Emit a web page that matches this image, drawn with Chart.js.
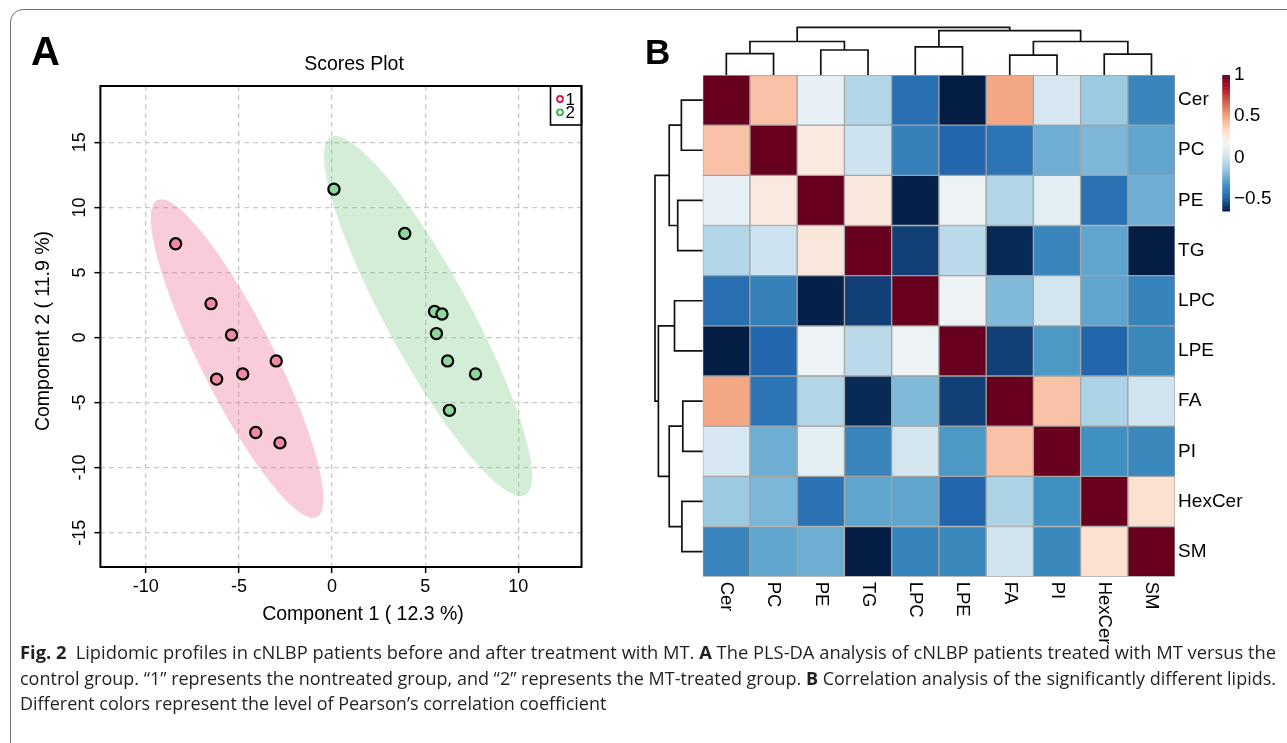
<!DOCTYPE html>
<html>
<head>
<meta charset="utf-8">
<script src="https://cdn.jsdelivr.net/npm/chart.js@4.4.0/dist/chart.umd.min.js"></script>
<style>
  html, body { margin: 0; padding: 0; background: #fff; width: 1287px; height: 743px; overflow: hidden; }
  body { position: relative; font-family: "Liberation Sans", Arial, sans-serif; }
  #frame { position: absolute; left: 10px; top: 9px; width: 1320px; height: 760px; border: 1px solid #6e6e6e; border-radius: 13px; box-sizing: border-box; }
  #scores { position: absolute; left: 0; top: 0; }
  #heat { position: absolute; left: 640px; top: 0; }
  #cap { position: absolute; left: 20px; top: 639px; color: #231f20;
         font-family: "Open Sans", "Noto Sans", sans-serif; font-size: 18.5px; line-height: 25.5px; white-space: nowrap; }
  #cap > div { transform-origin: 0 0; width: max-content; }
  #cap b { font-weight: 700; }
</style>
</head>
<body>
<div id="frame"></div>
<canvas id="scores" width="640" height="640"></canvas>
<canvas id="heat" width="647" height="662"></canvas>
<div id="cap">
  <div><b>Fig. 2</b>&ensp;Lipidomic profiles in cNLBP patients before and after treatment with MT. <b>A</b> The PLS-DA analysis of cNLBP patients treated with MT versus the</div>
  <div>control group. “1” represents the nontreated group, and “2” represents the MT-treated group. <b>B</b> Correlation analysis of the significantly different lipids.</div>
  <div>Different colors represent the level of Pearson’s correlation coefficient</div>
</div>
<script>
  // ---- panel A: PLS-DA scores ----
  const groupNames = ['1', '2'];
  const g1x = [-8.4, -6.5, -5.4, -3.0, -6.2, -4.8, -4.1, -2.8];
  const g1y = [7.2, 2.6, 0.2, -1.8, -3.2, -2.8, -7.3, -8.1];
  const g2x = [0.1, 3.9, 5.5, 5.9, 5.6, 6.2, 7.7, 6.3];
  const g2y = [11.4, 8.0, 2.0, 1.8, 0.3, -1.8, -2.8, -5.6];
  // confidence ellipses: centre x, centre y, sd x, sd y, correlation
  const ellipse1 = [-5.1, -1.62, 4.63, 12.24, -0.88];
  const ellipse2 = [5.15, 1.65, 5.59, 13.84, -0.89];
  const xRange = [-12.44, 13.39];
  const yRange = [-17.64, 19.33];

  // ---- panel B: correlation heatmap ----
  const lipids = ['Cer', 'PC', 'PE', 'TG', 'LPC', 'LPE', 'FA', 'PI', 'HexCer', 'SM'];
  const corr = [
    [1, 0.42, 0.1, -0.07, -0.45, -0.65, 0.5, 0.03, -0.13, -0.37],
    [0.42, 1, 0.26, 0.0, -0.39, -0.48, -0.43, -0.23, -0.2, -0.26],
    [0.1, 0.26, 1, 0.27, -0.64, 0.13, -0.07, 0.09, -0.44, -0.23],
    [-0.07, 0.0, 0.27, 1, -0.57, -0.05, -0.62, -0.37, -0.26, -0.65],
    [-0.45, -0.39, -0.64, -0.57, 1, 0.13, -0.19, 0.02, -0.26, -0.38],
    [-0.65, -0.48, 0.13, -0.05, 0.13, 1, -0.57, -0.3, -0.48, -0.36],
    [0.5, -0.43, -0.07, -0.62, -0.19, -0.57, 1, 0.42, -0.09, 0.01],
    [0.03, -0.23, 0.09, -0.37, 0.02, -0.3, 0.42, 1, -0.33, -0.36],
    [-0.13, -0.2, -0.44, -0.26, -0.26, -0.48, -0.09, -0.33, 1, 0.31],
    [-0.37, -0.26, -0.23, -0.65, -0.38, -0.36, 0.01, -0.36, 0.31, 1]
  ];
  // hclust style merges: negative = leaf (1-based), positive = earlier merge; last = height
  const treeMerges = [
    [-1, -2, 0.447], [-3, -4, 0.524], [-7, -8, 0.417], [-9, -10, 0.436], [-5, -6, 0.591],
    [1, 2, 0.702], [3, 4, 0.702], [5, 7, 0.929], [6, 8, 1.0]
  ];
  const legendTicks = [1, 0.5, 0, -0.5];
  const corrMin = -0.65, corrMax = 1;
  const palette = ['#031d44', '#2166AC', '#4393C3', '#92C5DE', '#D1E5F0', '#F7F7F7',
                   '#FDDBC7', '#F4A582', '#D6604D', '#B2182B', '#67001F'];

  const hexRgb = h => [1, 3, 5].map(k => parseInt(h.substr(k, 2), 16));
  function colorFor(v) {
    let t = (v - corrMin) / (corrMax - corrMin) * (palette.length - 1);
    t = Math.max(0, Math.min(palette.length - 1, t));
    const i = Math.min(Math.floor(t), palette.length - 2), f = t - i;
    const a = hexRgb(palette[i]), b = hexRgb(palette[i + 1]);
    return 'rgb(' + a.map((c, k) => Math.round(c + (b[k] - c) * f)).join(',') + ')';
  }

  const FONT = '"Liberation Sans", Arial, sans-serif';

  const scoresPlugin = {
    id: 'scoresExtras',
    beforeDatasetsDraw(chart) {
      const { ctx, scales: { x, y }, chartArea: a } = chart;
      ctx.save();
      ctx.beginPath();
      ctx.rect(a.left, a.top, a.width, a.height);
      ctx.clip();
      [[ellipse1, 'rgba(238,128,160,0.40)'], [ellipse2, 'rgba(120,200,130,0.32)']].forEach(([e, col]) => {
        const [cx, cy, sdx, sdy, r] = e;
        ctx.beginPath();
        for (let k = 0; k <= 180; k++) {
          const t = k / 180 * Math.PI * 2;
          const px = x.getPixelForValue(cx + sdx * Math.cos(t));
          const py = y.getPixelForValue(cy + sdy * (r * Math.cos(t) + Math.sqrt(1 - r * r) * Math.sin(t)));
          if (k === 0) ctx.moveTo(px, py); else ctx.lineTo(px, py);
        }
        ctx.closePath();
        ctx.fillStyle = col;
        ctx.fill();
      });
      ctx.restore();
    },
    afterDraw(chart) {
      const { ctx, scales: { y }, chartArea: a } = chart;
      ctx.save();
      ctx.strokeStyle = '#000';
      ctx.lineWidth = 2;
      ctx.strokeRect(a.left, a.top, a.width, a.height);
      ctx.fillStyle = '#000';
      // y tick labels, vertical like R
      ctx.font = '18px ' + FONT;
      ctx.textAlign = 'center';
      ctx.textBaseline = 'middle';
      y.ticks.forEach(t => {
        ctx.save();
        ctx.translate(80, y.getPixelForValue(t.value));
        ctx.rotate(-Math.PI / 2);
        ctx.fillText(String(t.value), 0, 0);
        ctx.restore();
      });
      // titles
      ctx.font = '19.5px ' + FONT;
      ctx.fillText('Scores Plot', 354, 65);
      ctx.fillText('Component 1 ( 12.3 %)', 363, 615);
      ctx.save();
      ctx.translate(44, 331);
      ctx.rotate(-Math.PI / 2);
      ctx.fillText('Component 2 ( 11.9 %)', 0, 0);
      ctx.restore();
      // legend box
      const bx = a.right - 31, by = a.top, bh = 39;
      ctx.lineWidth = 1.6;
      ctx.strokeRect(bx, by, a.right - bx, bh);
      const cols = ['#e0174b', '#2db34a'];
      ctx.font = '17px ' + FONT;
      ctx.textAlign = 'left';
      chart.data.datasets.forEach((d, i) => {
        const cy = by + 13 + i * 13.3;
        ctx.beginPath();
        ctx.arc(bx + 9.5, cy, 3, 0, Math.PI * 2);
        ctx.strokeStyle = cols[i];
        ctx.lineWidth = 1.8;
        ctx.stroke();
        ctx.fillStyle = '#000';
        ctx.fillText(d.label, bx + 15, cy + 1);
      });
      // panel letter
      ctx.font = 'bold 40px ' + FONT;
      ctx.textAlign = 'left';
      ctx.textBaseline = 'alphabetic';
      ctx.fillText('A', 31, 65);
      ctx.restore();
    }
  };

  new Chart(document.getElementById('scores').getContext('2d'), {
    type: 'scatter',
    data: {
      datasets: [
        { label: groupNames[0], data: g1x.map((v, i) => ({ x: v, y: g1y[i] })),
          backgroundColor: '#f08aa2', borderColor: '#000', borderWidth: 2.2, pointRadius: 5.6 },
        { label: groupNames[1], data: g2x.map((v, i) => ({ x: v, y: g2y[i] })),
          backgroundColor: '#8ed79c', borderColor: '#000', borderWidth: 2.2, pointRadius: 5.6 }
      ]
    },
    options: {
      responsive: false,
      animation: false,
      layout: { padding: { left: 0, top: 86, right: 58.5, bottom: 0 } },
      plugins: { legend: { display: false }, tooltip: { enabled: false } },
      scales: {
        x: {
          type: 'linear', min: xRange[0], max: xRange[1],
          ticks: { stepSize: 5, includeBounds: false, color: '#000', font: { size: 18, family: FONT }, padding: 3 },
          grid: { color: '#c9c9c9', lineWidth: 1.3, tickColor: '#000', tickLength: 6, tickWidth: 1.5 },
          border: { display: false, dash: [5, 4] },
          afterFit(s) { s.height = 73; }
        },
        y: {
          type: 'linear', min: yRange[0], max: yRange[1],
          ticks: { stepSize: 5, includeBounds: false, display: false },
          grid: { color: '#c9c9c9', lineWidth: 1.3, tickColor: '#000', tickLength: 6, tickWidth: 1.5 },
          border: { display: false, dash: [5, 4] },
          afterFit(s) { s.width = 100.4; }
        }
      }
    },
    plugins: [scoresPlugin]
  });

  // ---- panel B drawing ----
  const heatPlugin = {
    id: 'heatExtras',
    afterDraw(chart) {
      const { ctx, scales: { x, rows }, chartArea: a } = chart;
      ctx.save();
      // column labels, rotated clockwise
      ctx.fillStyle = '#000';
      ctx.font = '18.5px ' + FONT;
      ctx.textAlign = 'left';
      ctx.textBaseline = 'middle';
      lipids.forEach((n, i) => {
        ctx.save();
        ctx.translate(x.getPixelForValue(i), a.bottom + 5);
        ctx.rotate(Math.PI / 2);
        ctx.fillText(n, 0, 0);
        ctx.restore();
      });
      // dendrograms
      const H = 47.7;
      ctx.strokeStyle = '#111';
      ctx.lineWidth = 1.7;
      const drawTree = (leafPos, toXY) => {
        const nodes = [];
        const get = id => id < 0 ? { p: leafPos(-id - 1), h: 0 } : nodes[id - 1];
        treeMerges.forEach(([l, r, h]) => {
          const A = get(l), B = get(r);
          const pts = [toXY(A.p, A.h), toXY(A.p, h), toXY(B.p, h), toXY(B.p, B.h)];
          ctx.beginPath();
          ctx.moveTo(pts[0][0], pts[0][1]);
          pts.slice(1).forEach(q => ctx.lineTo(q[0], q[1]));
          ctx.stroke();
          nodes.push({ p: (A.p + B.p) / 2, h });
        });
      };
      drawTree(i => x.getPixelForValue(i), (p, h) => [p, a.top - h * H]);
      drawTree(i => rows.getPixelForValue(i), (p, h) => [a.left - h * H, p]);
      // colour key
      const kx = 582.3, kw = 7.7, kTop = 75, kBot = 211;
      const kv = v => kBot - (v - corrMin) / (corrMax - corrMin) * (kBot - kTop);
      const steps = 100;
      for (let s = 0; s < steps; s++) {
        const v0 = corrMin + (corrMax - corrMin) * s / steps;
        const v1 = corrMin + (corrMax - corrMin) * (s + 1) / steps;
        ctx.fillStyle = colorFor((v0 + v1) / 2);
        ctx.fillRect(kx, kv(v1), kw, kv(v0) - kv(v1) + 0.5);
      }
      ctx.fillStyle = '#000';
      ctx.font = '19px ' + FONT;
      ctx.textAlign = 'left';
      legendTicks.forEach(v => {
        const lbl = v < 0 ? '\u2212' + String(-v) : String(v);
        ctx.fillText(lbl, kx + kw + 4, Math.max(kv(v), 73));
      });
      // panel letter
      ctx.font = 'bold 35px ' + FONT;
      ctx.textBaseline = 'alphabetic';
      ctx.fillText('B', 5, 64);
      ctx.restore();
    }
  };

  new Chart(document.getElementById('heat').getContext('2d'), {
    type: 'bar',
    data: {
      labels: lipids,
      datasets: lipids.map((name, i) => ({
        label: name,
        data: lipids.map(() => 1),
        backgroundColor: corr[i].map(colorFor),
        borderColor: '#a2a2a2',
        borderWidth: 1,
        borderSkipped: false,
        barPercentage: 1,
        categoryPercentage: 1
      }))
    },
    options: {
      responsive: false,
      animation: false,
      layout: { padding: { left: 62.7, top: 75, right: 0, bottom: 85.3 } },
      plugins: { legend: { display: false }, tooltip: { enabled: false } },
      scales: {
        x: { stacked: true, display: false },
        y: { stacked: true, display: false, min: 0, max: lipids.length, reverse: true },
        rows: {
          type: 'category', labels: lipids, position: 'right', offset: true,
          grid: { display: false, drawTicks: false }, border: { display: false },
          ticks: { color: '#000', font: { size: 19, family: FONT }, padding: 3, autoSkip: false },
          afterFit(s) { s.width = 111.9; }
        }
      }
    },
    plugins: [heatPlugin]
  });

  // caption: squeeze each full line to the printed width, last line like the one above
  (function () {
    const lines = Array.from(document.querySelectorAll('#cap > div'));
    const full = 1256;
    const w = lines.map(l => l.getBoundingClientRect().width);
    const s = [full / w[0], full / w[1], full / w[1]];
    lines.forEach((l, i) => { l.style.transform = 'scaleX(' + s[i] + ')'; });
  })();
</script>
</body>
</html>
